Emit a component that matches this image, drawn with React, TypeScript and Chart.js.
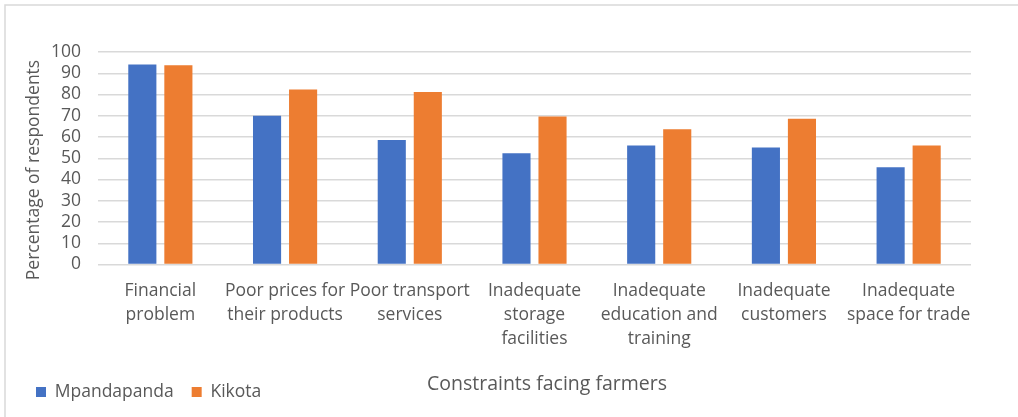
import React, { useEffect, useRef } from "react";
import { Chart, registerables } from "chart.js";

Chart.register(...registerables);

const categories: string[][] = [
  ["Financial", "problem"],
  ["Poor prices for", "their products"],
  ["Poor transport", "services"],
  ["Inadequate", "storage", "facilities"],
  ["Inadequate", "education and", "training"],
  ["Inadequate", "customers"],
  ["Inadequate", "space for trade"],
];
const seriesNames = ["Mpandapanda", "Kikota"];
const mpandapanda = [94.1, 70.0, 58.6, 52.4, 56.0, 55.1, 45.8];
const kikota = [93.8, 82.3, 81.2, 69.7, 63.6, 68.6, 56.0];
const yMin = 0;
const yMax = 100;
const yStep = 10;
const yTitle = "Percentage of respondents";
const xTitle = "Constraints facing farmers";

const FONT = "'Open Sans', 'Liberation Sans', sans-serif";
const TEXT = "#595959";
const GRID = "#d9d9d9";

const decor = {
  id: "decor",
  beforeDraw(chart: any) {
    const ctx = chart.ctx;
    ctx.save();
    ctx.fillStyle = "#ffffff";
    ctx.fillRect(0, 0, chart.width, chart.height);
    ctx.strokeStyle = GRID;
    ctx.lineWidth = 1.5;
    ctx.strokeRect(5, 5, chart.width + 20, chart.height + 20);
    ctx.restore();
  },
  afterDraw(chart: any) {
    const ctx = chart.ctx;
    ctx.save();
    ctx.fillStyle = TEXT;
    ctx.textAlign = "center";
    ctx.textBaseline = "middle";
    ctx.font = `19.5px ${FONT}`;
    ctx.fillText(xTitle, 547, 384);
    ctx.translate(34, 170);
    ctx.rotate(-Math.PI / 2);
    ctx.font = `17.5px ${FONT}`;
    ctx.fillText(yTitle, 0, 0);
    ctx.restore();
  },
};

export default function App() {
  const ref = useRef<HTMLCanvasElement | null>(null);
  useEffect(() => {
    if (!ref.current) return;
    const chart = new Chart(ref.current, {
      type: "bar",
      data: {
        labels: categories,
        datasets: [
          {
            label: seriesNames[0],
            data: mpandapanda,
            backgroundColor: "#4472C4",
            categoryPercentage: 0.578,
            barPercentage: 0.78,
          },
          {
            label: seriesNames[1],
            data: kikota,
            backgroundColor: "#ED7D31",
            categoryPercentage: 0.578,
            barPercentage: 0.78,
          },
        ],
      },
      options: {
        animation: false,
        responsive: true,
        maintainAspectRatio: false,
        layout: { padding: { left: 18, right: 47, top: 52, bottom: 6.25 } },
        plugins: {
          tooltip: { enabled: false },
          legend: {
            position: "bottom",
            align: "start",
            labels: {
              boxWidth: 10,
              boxHeight: 10,
              padding: 18,
              color: TEXT,
              font: { family: FONT, size: 17.5 },
            },
          },
        },
        scales: {
          x: {
            grid: { display: false, drawTicks: false },
            border: { display: false },
            ticks: {
              color: TEXT,
              maxRotation: 0,
              autoSkip: false,
              padding: 15,
              font: { family: FONT, size: 17.5, lineHeight: 1.37 },
            },
            afterFit(scale: any) {
              scale.height = 100.75;
            },
          },
          y: {
            min: yMin,
            max: yMax,
            grid: { color: GRID, lineWidth: 1.5, drawTicks: false },
            border: { display: false },
            ticks: {
              stepSize: yStep,
              autoSkip: false,
              maxTicksLimit: 20,
              color: TEXT,
              padding: 17,
              font: { family: FONT, size: 17.5, lineHeight: 1 },
            },
            afterFit(scale: any) {
              scale.width = 80;
            },
          },
        },
      },
      plugins: [decor],
    });
    return () => chart.destroy();
  }, []);
  return (
    <div style={{ position: "absolute", left: 0, top: 0, width: 1018, height: 417 }}>
      <canvas ref={ref} />
    </div>
  );
}
